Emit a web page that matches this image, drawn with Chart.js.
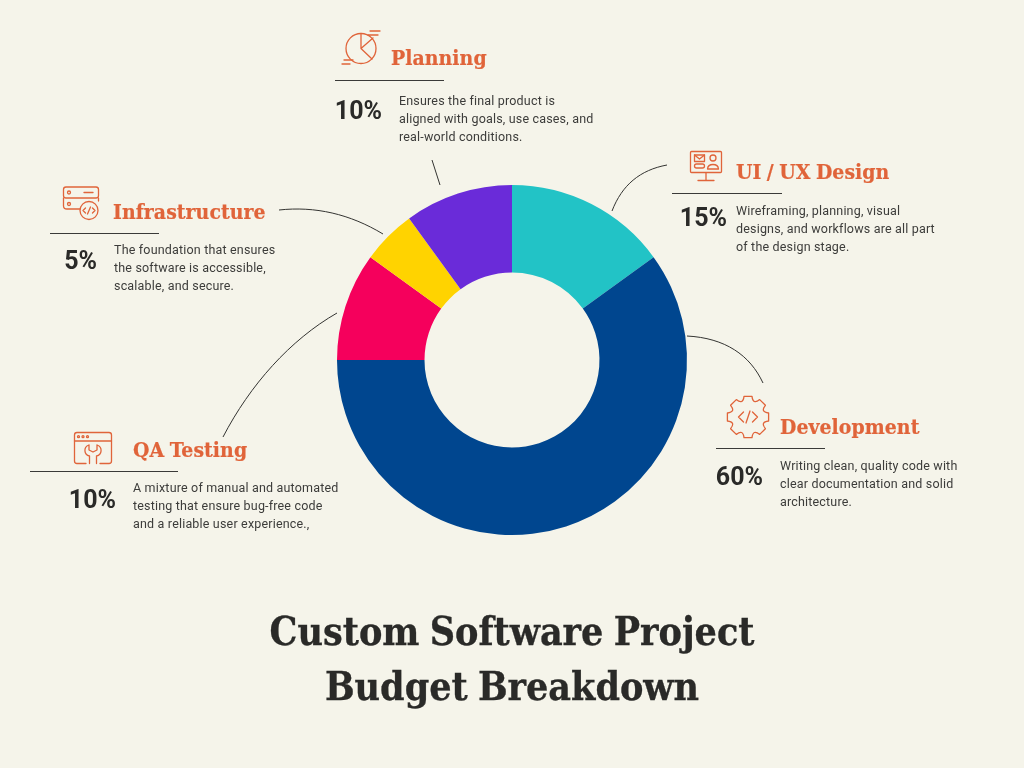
<!DOCTYPE html>
<html>
<head>
<meta charset="utf-8">
<title>Custom Software Project Budget Breakdown</title>
<script src="https://cdn.jsdelivr.net/npm/chart.js@4"></script>
<style>
html, body { margin: 0; padding: 0; background: #f5f4ea; }
#page { position: relative; width: 1024px; height: 768px; overflow: hidden; background: #f5f4ea; }
#chart, #art { position: absolute; left: 0; top: 0; }
.head, .pct, .desc, .title { position: absolute; white-space: nowrap; }
.head { font: bold 21px "DejaVu Serif Condensed", "DejaVu Serif", serif; color: #e0643a; line-height: 28px; word-spacing: -1.2px; letter-spacing: 0.05px; -webkit-text-stroke: 0.2px #e0643a; }
.pct { font: 700 25px Roboto, sans-serif; color: #2a2a28; line-height: 30px; }
.desc { font: 12.5px/18px Roboto, sans-serif; color: #3c3c3a; letter-spacing: 0.18px; }
.title { left: 0; width: 1024px; text-align: center; font: bold 39px/55px "DejaVu Serif Condensed", "DejaVu Serif", serif; color: #2a2a28; word-spacing: -2px; -webkit-text-stroke: 0.3px #2a2a28; }
</style>
</head>
<body>
<div id="page">
<canvas id="chart" width="1024" height="768"></canvas>
<svg id="art" width="1024" height="768" fill="none"></svg>
</div>
<script>
var categories = ['UI / UX Design', 'Development', 'QA Testing', 'Infrastructure', 'Planning'];
var shares = [15, 60, 10, 5, 10];
var sliceColors = ['#22c3c6', '#00468f', '#f5005c', '#ffd300', '#6a2bd9'];
var blurbs = [
    ['Wireframing, planning, visual', 'designs, and workflows are all part', 'of the design stage.'],
    ['Writing clean, quality code with', 'clear documentation and solid', 'architecture.'],
    ['A mixture of manual and automated', 'testing that ensure bug-free code', 'and a reliable user experience.,'],
    ['The foundation that ensures', 'the software is accessible,', 'scalable, and secure.'],
    ['Ensures the final product is', 'aligned with goals, use cases, and', 'real-world conditions.']
];
var titleLines = ['Custom Software Project', 'Budget Breakdown'];

// x of heading, y of heading centre, rule x1/x2/y, right edge of the percent, y of percent, x and y of first text line
var spots = [
    { x: 736, y: 172, r1: 672, r2: 782, ry: 193, pr: 727, py: 218, dx: 736, dy: 211 },
    { x: 780, y: 427, r1: 716, r2: 825, ry: 448, pr: 763, py: 477, dx: 780, dy: 466 },
    { x: 133, y: 450, r1: 30, r2: 178, ry: 471, pr: 116, py: 500, dx: 133, dy: 488 },
    { x: 113, y: 212, r1: 50, r2: 159, ry: 233, pr: 97, py: 261, dx: 114, dy: 250 },
    { x: 391, y: 58, r1: 335, r2: 444, ry: 80, pr: 382, py: 111, dx: 399, dy: 101 }
];
var connectors = [
    'M667 165C640 170 622 185 612 211',
    'M687 336C725 338 750 355 763 383',
    'M223 437C250 385 290 340 337 313',
    'M279 210C315 206 350 214 383 234',
    'M432 160L440 185'
];

function gearPath(cx, cy, r) {
    var d = '';
    for (var i = 0; i < 8; i++) {
        var a = (i * 45 - 90) * Math.PI / 180, s = 11 * Math.PI / 180, w = 22.5 * Math.PI / 180;
        var p = function (ang, rad) { return (cx + rad * Math.cos(ang)).toFixed(1) + ' ' + (cy + rad * Math.sin(ang)).toFixed(1); };
        d += (i ? 'L' : 'M') + p(a - s, r) + 'L' + p(a + s, r) + 'Q' + p(a + w, r - 8) + ' ' + p(a + 2 * w - s, r);
    }
    return d + 'Z';
}

var icons = [
    // monitor
    '<rect x="690.5" y="151.5" width="31" height="21" rx="1"/><path d="M706 173V180M698 180.5H714"/>' +
    '<rect x="694.5" y="155" width="10" height="6.5"/><path d="M694.5 155L699.500 159L704.5 155"/>' +
    '<rect x="694.5" y="164" width="10" height="4" rx="2"/><circle cx="713" cy="158" r="3"/><path d="M707.5 169C708 163 718 163 718.5 169Z"/>',
    // gear
    '<path d="' + gearPath(748, 417, 21) + '"/><path d="M743.500 412L738.500 417L743.500 422M752.500 412L757.500 417L752.500 422M750 411L746 423"/>',
    // browser + wrench
    '<path d="M86 463.500H77C75.500 463.500 74.500 462.500 74.500 461V435C74.500 433.500 75.500 432.500 77 432.500H109C110.500 432.500 111.500 433.500 111.500 435V461C111.500 462.500 110.500 463.500 109 463.500H100"/><path d="M74.500 441H111.500"/><circle cx="78.500" cy="436.700" r="1"/><circle cx="83" cy="436.700" r="1"/><circle cx="87.500" cy="436.700" r="1"/>' +
    '<path d="M89 445C83 447 84 455 89.500 456V463.500M97 445C103 447 102 455 96.500 456V463.500M89 445V450L93 452L97 450V445"/>',
    // servers + code
    '<rect x="63.500" y="187" width="35" height="11" rx="2.500"/><path d="M63.500 198V206C63.500 208 65 209 67 209H80M98.500 198V201"/><circle cx="69" cy="192.500" r="1.500"/><circle cx="69" cy="204" r="1.500"/><path d="M84 192.500H93"/>' +
    '<circle cx="89" cy="210.500" r="9"/><path d="M85.500 208L83 210.500L85.500 213M92.500 208L95 210.500L92.500 213M90.500 207L87.500 214"/>',
    // pie chart
    '<circle cx="361" cy="48.500" r="15"/><path d="M361 33.500V48.500L372 59M361 48.500L373 38"/><path d="M370 31H380M368 35H378M342 64H350M344 60H353"/>'
];

var page = document.getElementById('page');
var art = document.getElementById('art');

function addText(cls, text, style) {
    var el = document.createElement('div');
    el.className = cls;
    el.textContent = text;
    for (var k in style) el.style[k] = style[k];
    page.appendChild(el);
    return el;
}

var svg = '';
connectors.forEach(function (d) {
    svg += '<path d="' + d + '" stroke="#333331" stroke-width="1"/>';
});
categories.forEach(function (name, i) {
    var s = spots[i];
    addText('head', name, { left: s.x + 'px', top: (s.y - 14) + 'px' });
    addText('pct', shares[i] + '%', { right: (1024 - s.pr) + 'px', top: (s.py - 15) + 'px' });
    blurbs[i].forEach(function (line, j) {
        addText('desc', line, { left: s.dx + 'px', top: (s.dy - 9 + j * 18) + 'px' });
    });
    svg += '<path d="M' + s.r1 + ' ' + (s.ry + 0.5) + 'H' + s.r2 + '" stroke="#3a3a38" stroke-width="1"/>';
    svg += '<g stroke="#e0643a" stroke-width="1.3" stroke-linejoin="round" stroke-linecap="round">' + icons[i] + '</g>';
});
art.innerHTML = svg;
titleLines.forEach(function (line, i) {
    addText('title', line, { top: (604 + i * 55) + 'px' });
});

new Chart(document.getElementById('chart').getContext('2d'), {
    type: 'doughnut',
    data: {
        labels: categories,
        datasets: [{
            data: shares,
            backgroundColor: sliceColors,
            borderWidth: 0
        }]
    },
    options: {
        responsive: false,
        animation: false,
        cutout: '50%',
        layout: { padding: { top: 185, bottom: 233, left: 0, right: 0 } },
        plugins: {
            legend: { display: false },
            tooltip: { enabled: false }
        }
    }
});
</script>
</body>
</html>
